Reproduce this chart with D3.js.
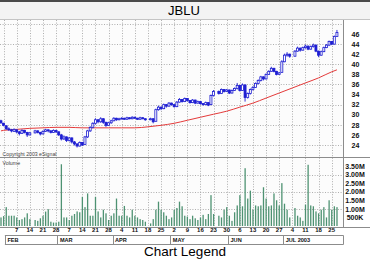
<!DOCTYPE html>
<html>
<head>
<meta charset="utf-8">
<script src="https://cdn.jsdelivr.net/npm/d3@7"></script>
<style>
  html, body { margin: 0; padding: 0; background: #fff; }
  svg { display: block; }
</style>
</head>
<body>
<div class="chart"></div>
<script>
// JBLU daily bars, 30 Jan - 29 Jul 2003
const dates = [
  "2003-01-30", "2003-01-31",
  "2003-02-03", "2003-02-04", "2003-02-05", "2003-02-06", "2003-02-07",
  "2003-02-10", "2003-02-11", "2003-02-12", "2003-02-13", "2003-02-14",
  "2003-02-18", "2003-02-19", "2003-02-20", "2003-02-21",
  "2003-02-24", "2003-02-25", "2003-02-26", "2003-02-27", "2003-02-28",
  "2003-03-03", "2003-03-04", "2003-03-05", "2003-03-06", "2003-03-07",
  "2003-03-10", "2003-03-11", "2003-03-12", "2003-03-13", "2003-03-14",
  "2003-03-17", "2003-03-18", "2003-03-19", "2003-03-20", "2003-03-21",
  "2003-03-24", "2003-03-25", "2003-03-26", "2003-03-27", "2003-03-28",
  "2003-03-31", "2003-04-01", "2003-04-02", "2003-04-03", "2003-04-04",
  "2003-04-07", "2003-04-08", "2003-04-09", "2003-04-10", "2003-04-11",
  "2003-04-14", "2003-04-15", "2003-04-16", "2003-04-17",
  "2003-04-21", "2003-04-22", "2003-04-23", "2003-04-24", "2003-04-25",
  "2003-04-28", "2003-04-29", "2003-04-30", "2003-05-01", "2003-05-02",
  "2003-05-05", "2003-05-06", "2003-05-07", "2003-05-08", "2003-05-09",
  "2003-05-12", "2003-05-13", "2003-05-14", "2003-05-15", "2003-05-16",
  "2003-05-19", "2003-05-20", "2003-05-21", "2003-05-22", "2003-05-23",
  "2003-05-27", "2003-05-28", "2003-05-29", "2003-05-30",
  "2003-06-02", "2003-06-03", "2003-06-04", "2003-06-05", "2003-06-06",
  "2003-06-09", "2003-06-10", "2003-06-11", "2003-06-12", "2003-06-13",
  "2003-06-16", "2003-06-17", "2003-06-18", "2003-06-19", "2003-06-20",
  "2003-06-23", "2003-06-24", "2003-06-25", "2003-06-26", "2003-06-27",
  "2003-06-30", "2003-07-01", "2003-07-02", "2003-07-03",
  "2003-07-07", "2003-07-08", "2003-07-09", "2003-07-10", "2003-07-11",
  "2003-07-14", "2003-07-15", "2003-07-16", "2003-07-17", "2003-07-18",
  "2003-07-21", "2003-07-22", "2003-07-23", "2003-07-24", "2003-07-25",
  "2003-07-28", "2003-07-29"
];

const open = [
  28.8, 28.3,
  27.8, 27.2, 27.0, 26.7, 27.0,
  26.6, 26.3, 26.9, 26.5, 26.0,
  26.4, 26.8, 26.5, 26.2,
  26.7, 27.0, 26.8, 26.5, 26.9,
  26.6, 26.0, 25.2, 25.6, 24.9,
  25.4, 24.6, 24.2, 23.8, 24.5,
  24.1, 25.6, 26.8, 27.5, 28.3,
  29.0, 28.6, 29.2, 28.5, 27.9,
  28.4, 28.8, 29.3, 29.0, 29.2,
  29.3, 29.1, 29.4, 29.2, 29.5,
  29.3, 29.1, 29.4, 29.2,
  29.0, 29.2, 28.7, 31.0, 31.5,
  31.2, 32.0, 31.7, 32.3, 32.0,
  31.6, 32.5, 33.0, 32.6, 33.2,
  32.8, 32.4, 32.9, 32.3, 32.6,
  32.2, 32.0, 32.4, 32.0, 33.8,
  34.6, 34.2, 35.0, 34.6,
  34.9, 34.3, 34.8, 35.2, 35.8,
  34.8, 35.9, 33.4, 34.2, 35.0,
  35.4, 36.2, 36.8, 37.5, 37.1,
  38.0, 38.6, 39.2, 38.6, 38.0,
  38.4, 40.5, 41.8, 42.0,
  41.6, 42.6, 43.2, 42.8, 43.3,
  43.6, 43.0, 43.5, 43.8, 42.6,
  41.8, 42.5, 43.3, 43.8, 44.5,
  44.0, 45.5
];

const high = [
  29.0, 28.4,
  27.9, 27.5, 27.2, 27.3, 27.1,
  26.8, 27.1, 27.0, 26.6, 26.6,
  27.0, 26.9, 26.6, 26.9,
  27.2, 27.1, 26.9, 27.1, 27.0,
  26.7, 26.2, 25.9, 25.7, 25.6,
  25.5, 24.8, 24.4, 24.7, 24.6,
  25.8, 27.0, 27.7, 28.5, 29.3,
  29.1, 29.5, 29.3, 28.6, 28.6,
  29.0, 29.5, 29.4, 29.4, 29.5,
  29.4, 29.6, 29.5, 29.7, 29.6,
  29.4, 29.6, 29.5, 29.3,
  29.4, 29.3, 31.2, 31.8, 31.6,
  32.2, 32.1, 32.5, 32.4, 32.1,
  32.7, 33.3, 33.1, 33.4, 33.3,
  32.9, 33.1, 33.0, 32.8, 32.7,
  32.3, 32.6, 32.5, 34.0, 34.9,
  34.8, 35.2, 35.1, 35.1,
  35.0, 35.0, 35.4, 36.3, 35.9,
  36.2, 36.0, 34.4, 35.2, 35.7,
  36.4, 37.0, 37.7, 37.6, 38.2,
  38.8, 39.5, 39.3, 38.7, 38.5,
  40.8, 42.1, 42.4, 42.1,
  42.8, 43.5, 43.3, 43.5, 43.9,
  43.7, 43.7, 44.1, 43.9, 42.7,
  42.7, 43.5, 44.0, 44.7, 44.6,
  45.7, 46.8
];

const low = [
  28.2, 27.7,
  27.0, 26.8, 26.5, 26.6, 26.3,
  25.9, 26.2, 26.3, 25.6, 25.9,
  26.3, 26.3, 25.9, 26.1,
  26.6, 26.5, 26.3, 26.4, 26.4,
  25.8, 24.9, 25.0, 24.6, 24.7,
  24.3, 23.9, 23.5, 23.7, 23.8,
  24.0, 25.4, 26.6, 27.3, 28.1,
  28.3, 28.4, 28.2, 27.6, 27.8,
  28.2, 28.7, 28.8, 28.9, 29.1,
  29.0, 29.0, 29.1, 29.1, 29.2,
  29.0, 29.0, 29.1, 28.8,
  28.9, 28.3, 28.6, 30.8, 30.9,
  31.1, 31.4, 31.6, 31.8, 31.4,
  31.5, 32.4, 32.4, 32.5, 32.6,
  32.2, 32.3, 32.1, 32.2, 32.0,
  31.8, 31.9, 31.7, 31.9, 33.6,
  34.0, 34.1, 34.4, 34.5,
  34.1, 34.2, 34.7, 35.0, 34.6,
  34.7, 32.6, 33.2, 34.0, 34.8,
  35.3, 36.0, 36.6, 36.8, 37.0,
  37.9, 38.5, 38.4, 37.8, 37.9,
  38.3, 40.4, 41.5, 41.3,
  41.5, 42.5, 42.5, 42.7, 43.1,
  42.8, 42.9, 43.3, 42.4, 41.4,
  41.7, 42.4, 43.2, 43.6, 43.8,
  43.9, 45.4
];

const close = [
  28.4, 27.9,
  27.2, 27.0, 26.8, 27.1, 26.6,
  26.3, 26.9, 26.5, 26.0, 26.4,
  26.8, 26.5, 26.2, 26.7,
  27.0, 26.8, 26.5, 26.9, 26.6,
  26.0, 25.2, 25.6, 24.9, 25.4,
  24.6, 24.2, 23.8, 24.5, 24.0,
  25.6, 26.8, 27.5, 28.3, 29.0,
  28.6, 29.2, 28.5, 27.9, 28.4,
  28.8, 29.3, 29.0, 29.2, 29.3,
  29.1, 29.4, 29.2, 29.5, 29.3,
  29.1, 29.4, 29.2, 29.0,
  29.2, 28.6, 31.0, 31.5, 31.2,
  32.0, 31.7, 32.3, 32.0, 31.6,
  32.5, 33.0, 32.6, 33.2, 32.8,
  32.4, 32.9, 32.3, 32.6, 32.2,
  32.0, 32.4, 31.9, 33.8, 34.6,
  34.2, 35.0, 34.6, 34.9,
  34.3, 34.8, 35.2, 35.8, 34.8,
  35.9, 33.4, 34.2, 35.0, 35.4,
  36.2, 36.8, 37.5, 37.1, 38.0,
  38.6, 39.2, 38.6, 38.0, 38.3,
  40.5, 41.8, 42.0, 41.6,
  42.6, 43.2, 42.8, 43.3, 43.6,
  43.0, 43.5, 43.8, 42.6, 41.8,
  42.5, 43.3, 43.8, 44.5, 44.0,
  45.5, 46.3
];

// volume in millions of shares
const volume = [
  0.50, 0.58,
  1.10, 0.60, 0.60, 0.60, 0.50,
  0.35, 0.40, 0.50, 0.74, 0.40,
  0.35, 0.30, 0.45, 0.60,
  0.84, 0.98, 0.25, 0.20, 0.20,
  0.25, 3.60, 0.50, 0.50, 0.35,
  0.60, 0.70, 0.85, 0.80, 1.70,
  1.10, 1.90, 0.60, 0.60, 1.70,
  0.85, 0.50, 0.95, 0.74, 0.35,
  0.60, 0.74, 1.60, 0.60, 0.60,
  1.17, 0.60, 0.50, 0.95, 0.60,
  0.50, 0.40, 0.35, 0.25,
  0.15, 0.40, 0.95, 1.42, 0.95,
  0.80, 0.60, 0.40, 0.50, 0.95,
  1.05, 1.42, 1.15, 0.60, 0.55,
  0.40, 0.60, 0.45, 0.35, 0.50,
  0.65, 0.40, 0.70, 1.80, 0.70,
  0.60, 0.50, 0.95, 1.10,
  0.60, 0.30, 0.80, 1.20, 1.80,
  1.15, 3.37, 1.60, 2.06, 0.95,
  1.20, 1.15, 1.20, 2.26, 1.60,
  1.15, 1.20, 1.90, 1.50, 1.20,
  2.50, 1.30, 0.95, 0.50,
  1.05, 0.60, 0.50, 0.30, 1.25,
  3.57, 1.20, 1.15, 0.85, 0.74,
  0.95, 1.10, 0.50, 1.50, 0.95,
  1.15, 1.10
];

// red average line, read at week ends
const avgDates = ["2003-01-30", "2003-01-31", "2003-02-07", "2003-02-14", "2003-02-21", "2003-02-28",
  "2003-03-07", "2003-03-14", "2003-03-21", "2003-03-28", "2003-04-04", "2003-04-11", "2003-04-18",
  "2003-04-25", "2003-05-02", "2003-05-09", "2003-05-16", "2003-05-23", "2003-05-30", "2003-06-06",
  "2003-06-13", "2003-06-20", "2003-06-27", "2003-07-04", "2003-07-11", "2003-07-18", "2003-07-25",
  "2003-07-29"];
const avgValues = [26.8, 26.9, 27.1, 27.3, 27.4, 27.5,
  27.5, 27.4, 27.4, 27.4, 27.4, 27.4, 27.6,
  27.9, 28.3, 28.9, 29.5, 30.1, 30.7, 31.5,
  32.3, 33.3, 34.3, 35.3, 36.3, 37.3, 38.5,
  38.9];

const priceTicks = [46, 44, 42, 40, 38, 36, 34, 32, 30, 28, 26, 24];
const priceGrid = [48, 44, 40, 36, 32, 28, 24];
const volumeTicks = [3.5, 3.0, 2.5, 2.0, 1.5, 1.0, 0.5];
const volumeGrid = [1, 2, 3];
const monthNames = ["FEB", "MAR", "APR", "MAY", "JUN", "JUL 2003"];

const width = 370, height = 259;
const plotRight = 343;
const priceTop = 20, priceBottom = 157;
const volTop = 157, volBottom = 226;

const parse = d3.utcParse("%Y-%m-%d");
const key = d3.utcFormat("%Y-%m-%d");

// every weekday gets a slot, holidays too
const weekdays = d3.utcDay.range(parse("2003-01-30"), parse("2003-08-01"))
  .filter(d => d.getUTCDay() > 0 && d.getUTCDay() < 6)
  .map(key);

const x = d3.scaleBand().domain(weekdays).range([-0.36, 343.5]).padding(0);
const xc = d => x(d) + x.bandwidth() / 2;

const y = d3.scaleLinear().domain([21.62, 48.775]).range([priceBottom, priceTop]);
const yVol = d3.scaleLinear().domain([0, 4.0]).range([volBottom, volTop + 0.4]);

const bars = dates.map((d, i) => ({
  date: d, o: open[i], h: high[i], l: low[i], c: close[i], v: volume[i]
}));

const svg = d3.select(".chart").append("svg")
  .attr("width", width)
  .attr("height", height)
  .style("font-family", "'Liberation Sans', Arial, sans-serif");

// title strip
svg.append("rect").attr("x", 0).attr("y", 0).attr("width", width).attr("height", 19)
  .attr("fill", "#f3f3f3");
svg.append("rect").attr("x", 0).attr("y", 0).attr("width", width).attr("height", 2)
  .attr("fill", "#4a4a4a");
svg.append("text")
  .attr("x", 184).attr("y", 15)
  .attr("text-anchor", "middle")
  .style("font-size", "13px")
  .text("JBLU");

// panels
svg.append("rect").attr("x", 0).attr("y", priceTop).attr("width", plotRight).attr("height", volBottom + 1 - priceTop)
  .attr("fill", "#fcfcfc");

const grid = svg.append("g")
  .attr("stroke", "#9a9a9a")
  .attr("stroke-width", 0.8)
  .attr("stroke-dasharray", "1,1.6");

const fridays = weekdays.filter(d => parse(d).getUTCDay() === 5);

grid.selectAll(".vgrid")
  .data(fridays)
  .join("line")
  .attr("x1", d => Math.round(xc(d)) + 0.5)
  .attr("x2", d => Math.round(xc(d)) + 0.5)
  .attr("y1", priceTop)
  .attr("y2", volBottom);

grid.selectAll(".pgrid")
  .data(priceGrid)
  .join("line")
  .attr("x1", 0).attr("x2", plotRight)
  .attr("y1", d => Math.round(y(d)) + 0.5)
  .attr("y2", d => Math.round(y(d)) + 0.5);

grid.selectAll(".vgrid2")
  .data(volumeGrid)
  .join("line")
  .attr("x1", 0).attr("x2", plotRight)
  .attr("y1", d => Math.round(yVol(d)) + 0.5)
  .attr("y2", d => Math.round(yVol(d)) + 0.5);

// panel borders
const borders = svg.append("g").attr("stroke", "#8c8c8c").attr("stroke-width", 1);
borders.append("line").attr("x1", 0).attr("x2", width).attr("y1", 19.5).attr("y2", 19.5).attr("stroke", "#c4c4c4");
borders.append("line").attr("x1", 0).attr("x2", width).attr("y1", priceBottom + 0.5).attr("y2", priceBottom + 0.5);
borders.append("line").attr("x1", 0).attr("x2", width).attr("y1", volBottom + 1.5).attr("y2", volBottom + 1.5);
borders.append("line").attr("x1", plotRight + 0.5).attr("x2", plotRight + 0.5).attr("y1", 20).attr("y2", volBottom + 1.5);

// average line
const avgLine = d3.line()
  .x((d, i) => xc(d))
  .y((d, i) => y(avgValues[i]))
  .curve(d3.curveMonotoneX);

svg.append("path")
  .attr("d", avgLine(avgDates))
  .attr("fill", "none")
  .attr("stroke", "#e43a3a")
  .attr("stroke-width", 1);

// candles
const blue = "#1e1ed2";
const candles = svg.append("g");

candles.selectAll(".wick")
  .data(bars)
  .join("line")
  .attr("x1", d => xc(d.date))
  .attr("x2", d => xc(d.date))
  .attr("y1", d => y(d.h))
  .attr("y2", d => y(d.l))
  .attr("stroke", blue)
  .attr("stroke-width", 0.9);

candles.selectAll(".body")
  .data(bars)
  .join("rect")
  .attr("x", d => xc(d.date) - 1)
  .attr("width", 2)
  .attr("y", d => y(Math.max(d.o, d.c)))
  .attr("height", d => Math.max(0.8, Math.abs(y(d.o) - y(d.c))))
  .attr("fill", d => d.c > d.o ? "#ffffff" : blue)
  .attr("stroke", blue)
  .attr("stroke-width", 0.8);

// volume bars
svg.append("g")
  .selectAll("rect")
  .data(bars)
  .join("rect")
  .attr("x", d => xc(d.date) - 0.6)
  .attr("width", 1.3)
  .attr("y", d => yVol(d.v))
  .attr("height", d => yVol(0) - yVol(d.v))
  .attr("fill", "#4e9272");

// small texts
svg.append("text")
  .attr("x", 2.5).attr("y", 155.5)
  .style("font-size", "5.2px")
  .attr("fill", "#444")
  .text("Copyright 2003 eSignal");
svg.append("text")
  .attr("x", 2.5).attr("y", 164.5)
  .style("font-size", "5.3px")
  .attr("fill", "#444")
  .text("Volume");

// right axes
const priceAxis = svg.append("g")
  .attr("transform", `translate(${plotRight},0)`)
  .call(d3.axisRight(y).tickValues(priceTicks).tickSize(0).tickFormat(d3.format("d")));
priceAxis.select(".domain").remove();
priceAxis.selectAll("text")
  .attr("x", 12.5)
  .attr("text-anchor", "middle")
  .style("font-size", "7px")
  .style("font-weight", "bold")
  .style("font-family", "'Liberation Sans', Arial, sans-serif")
  .attr("fill", "#111");

const volAxis = svg.append("g")
  .attr("transform", `translate(${plotRight},0)`)
  .call(d3.axisRight(yVol).tickValues(volumeTicks).tickSize(0)
    .tickFormat(d => d < 1 ? `${d * 1000}K` : `${d.toFixed(2)}M`));
volAxis.select(".domain").remove();
volAxis.selectAll("text")
  .attr("x", 12)
  .attr("text-anchor", "middle")
  .style("font-size", "7px")
  .style("font-weight", "bold")
  .style("font-family", "'Liberation Sans', Arial, sans-serif")
  .attr("fill", "#111");

// date axis
const dayTicks = fridays.filter(d => d >= "2003-02-07" && d <= "2003-07-25");
const dateAxis = svg.append("g")
  .attr("transform", `translate(0,${volBottom + 1})`)
  .call(d3.axisBottom(x).tickValues(dayTicks).tickSize(0)
    .tickFormat(d => String(parse(d).getUTCDate())));
dateAxis.select(".domain").remove();
dateAxis.selectAll("text")
  .attr("dy", "0")
  .attr("y", 5.3)
  .style("font-size", "6px")
  .style("font-weight", "bold")
  .style("font-family", "'Liberation Sans', Arial, sans-serif")
  .attr("fill", "#111");

// month boxes
const monthStarts = d3.utcMonth.range(parse("2003-02-01"), parse("2003-08-01")).map(m => {
  return weekdays.find(d => parse(d) >= m);
});
const months = monthStarts.map((d, i) => ({
  name: monthNames[i],
  x0: x(d),
  x1: i < monthStarts.length - 1 ? x(monthStarts[i + 1]) : plotRight
}));

const monthRow = svg.append("g");
monthRow.append("line")
  .attr("x1", months[0].x0).attr("x2", plotRight + 0.5)
  .attr("y1", 235.5).attr("y2", 235.5)
  .attr("stroke", "#8c8c8c");
monthRow.append("line")
  .attr("x1", months[0].x0).attr("x2", plotRight + 0.5)
  .attr("y1", 244.5).attr("y2", 244.5)
  .attr("stroke", "#8c8c8c");
monthRow.selectAll(".sep")
  .data(months)
  .join("line")
  .attr("x1", d => Math.round(d.x0) + 0.5)
  .attr("x2", d => Math.round(d.x0) + 0.5)
  .attr("y1", 235.5).attr("y2", 244.5)
  .attr("stroke", "#8c8c8c");
monthRow.append("line")
  .attr("x1", plotRight + 0.5).attr("x2", plotRight + 0.5)
  .attr("y1", 235.5).attr("y2", 244.5)
  .attr("stroke", "#8c8c8c");
monthRow.selectAll("text")
  .data(months)
  .join("text")
  .attr("x", d => d.x0 + 2.5)
  .attr("y", 242.3)
  .style("font-size", "5.6px")
  .style("font-weight", "bold")
  .attr("fill", "#111")
  .text(d => d.name);

svg.append("text")
  .attr("x", 185).attr("y", 256)
  .attr("text-anchor", "middle")
  .style("font-size", "13.5px")
  .text("Chart Legend");
</script>
</body>
</html>
